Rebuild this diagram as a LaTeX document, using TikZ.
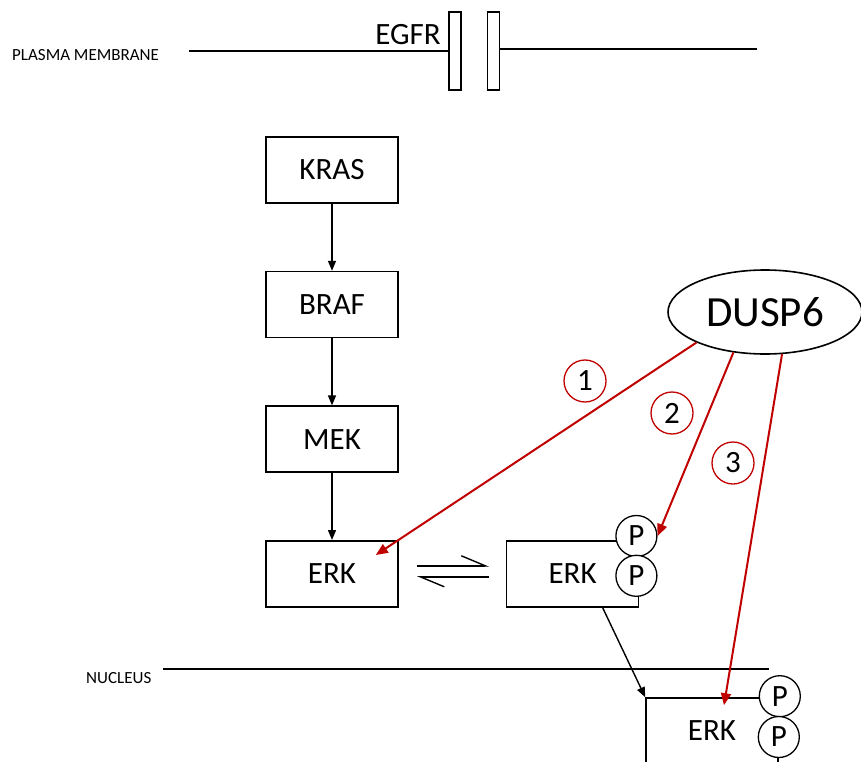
\documentclass[tikz,border=0pt]{standalone}
\usepackage{fontspec}
\setmainfont{Carlito}
\usetikzlibrary{positioning,arrows.meta,shapes.geometric}
\definecolor{dred}{RGB}{192,0,0}

\begin{document}
\begin{tikzpicture}[x=1pt,y=-1pt,node distance=67pt,
	box/.style={draw,line width=1.6pt,minimum width=132pt,minimum height=66pt,font=\fontsize{31}{36}\selectfont},
	phos/.style={draw,circle,fill=white,line width=1.3pt,minimum size=41pt,inner sep=0pt,font=\fontsize{31}{34}\selectfont},
	num/.style={draw=dred,circle,line width=1.3pt,minimum size=42pt,inner sep=0pt,font=\fontsize{31}{34}\selectfont},
	tag/.style={anchor=west,inner sep=0pt,font=\fontsize{17}{20}\selectfont},
	rcpt/.style={draw,line width=1.3pt,minimum width=12pt,minimum height=78pt,inner sep=0pt},
	fwd/.style={line width=1.4pt,-{Triangle[length=10pt,width=8pt]}},
	inhib/.style={dred,line width=2pt,-{Triangle[length=12pt,width=10pt]}},
	harp/.style={line width=1.4pt,-{Straight Barb[left,length=24pt,width=20pt]}}]
\path[use as bounding box,clip] (0,0) rectangle (861,762);

% membrane
\node[rcpt]	(egfr_l)	at (455,51)	{};
\node[rcpt]	(egfr_r)	[right=25pt of egfr_l]	{};
\node[anchor=base east,inner sep=0pt,font=\fontsize{31}{36}\selectfont]	(egfr)	at (441,45)	{EGFR};
\coordinate (mem_l) at (189,51);
\coordinate (mem_r) at (757,49);
\draw[line width=1.6pt] (mem_l) -- (egfr_l.west) ([yshift=2pt]egfr_r.east) -- (mem_r);
\node[tag]	(pm)	at (12,55)	{PLASMA MEMBRANE};

% cascade
\node[box]	(kras)	at (332,170)	{KRAS};
\node[box]	(braf)	[below=of kras]	{BRAF};
\node[box]	(mek)	[below=of braf]	{MEK};
\node[box]	(erk)	[below=of mek]	{ERK};
\node[box]	(erk_pp)	[right=107pt of erk]	{ERK};
\node[phos]	(p_1)	at ([shift={(-3pt,4pt)}]erk_pp.north east)	{P};
\node[phos]	(p_2)	at ([shift={(-3pt,-2pt)}]erk_pp.east)	{P};

% nucleus
\coordinate (nuc_l) at (163,669);
\coordinate (nuc_r) at (769,669);
\draw[line width=1.6pt] (nuc_l) -- (nuc_r);
\node[tag]	(nuc)	at (86,678)	{NUCLEUS};
\node[box]	(erk_nuc)	at (712,731)	{ERK};
\node[phos]	(p_3)	at ([shift={(1pt,1pt)}]erk_nuc.north east)	{P};
\node[phos]	(p_4)	at ([shift={(0pt,-6pt)}]erk_nuc.east)	{P};

% phosphatase
\node[draw,ellipse,line width=1.6pt,minimum width=194pt,minimum height=84pt,font=\fontsize{43}{50}\selectfont]	(dusp)	at (765,312)	{DUSP6};
\node[num]	(n_1)	at (585,381)	{1};
\node[num]	(n_2)	at (672,413)	{2};
\node[num]	(n_3)	at (733,463)	{3};
\coordinate (hit_1) at ([shift={(-23pt,-15pt)}]erk.north east);
\coordinate (hit_3) at ([shift={(12pt,-8pt)}]erk_nuc.north);

\path[fwd]	(kras)	edge	(braf)
		(braf)	edge	(mek)
		(mek)	edge	(erk)
		([xshift=30pt]erk_pp.south)	edge	(erk_nuc.north west);
\path[harp]	([shift={(18pt,8pt)}]erk.east)	edge	([shift={(-17pt,8pt)}]erk_pp.west)
		([shift={(-17pt,-3pt)}]erk_pp.west)	edge	([shift={(18pt,-3pt)}]erk.east);
\path[inhib]	(dusp.204)	edge	(hit_1)
		(dusp.232)	edge	(p_1.east)
		(dusp.292)	edge	(hit_3);
\end{tikzpicture}
\end{document}
